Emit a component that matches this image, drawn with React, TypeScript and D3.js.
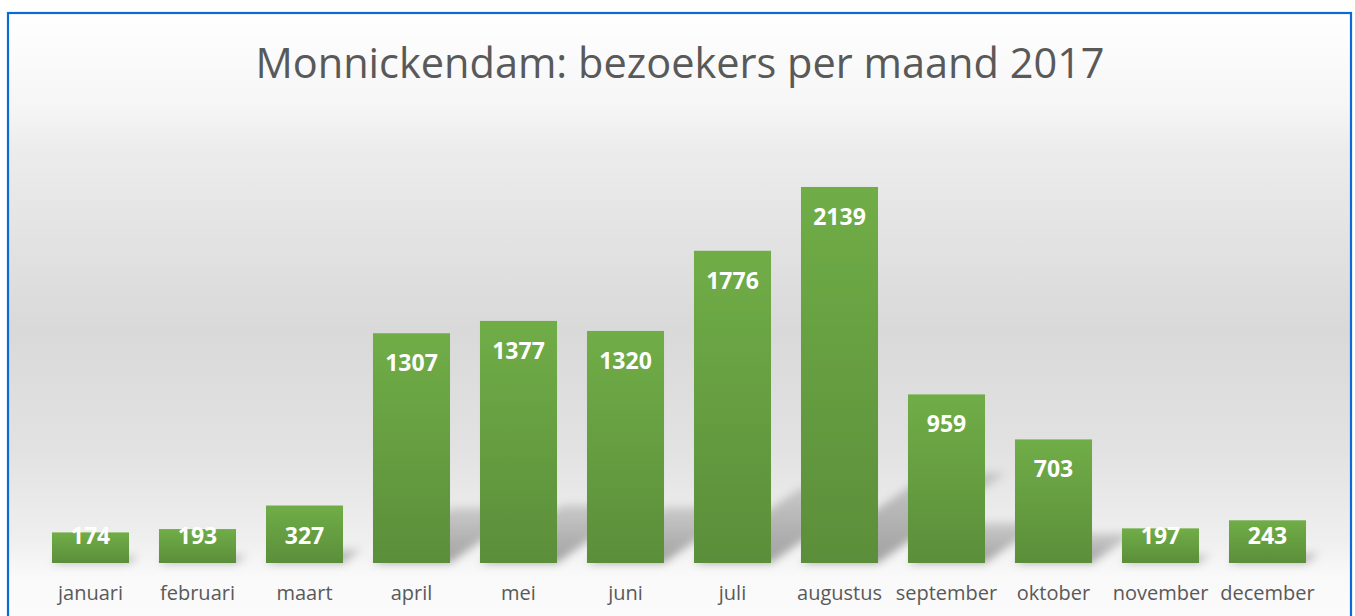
import React from "react";
import * as d3 from "d3";

const months: string[] = [
  "januari", "februari", "maart", "april", "mei", "juni",
  "juli", "augustus", "september", "oktober", "november", "december",
];
const visitors: number[] = [174, 193, 327, 1307, 1377, 1320, 1776, 2139, 959, 703, 197, 243];
const titleText = "Monnickendam: bezoekers per maand 2017";

const W = 1355;
const H = 616;
const FONT = "'Open Sans', 'Noto Sans', sans-serif";

export default function App() {
  const x = d3.scaleBand<string>().domain(months).range([37, 1321]).paddingInner(0.28).paddingOuter(0.14);
  const y = d3.scaleLinear().domain([0, 2500]).range([563, 123.5]);
  const base = y(0);

  const shadowPath = (m: string, v: number) => {
    const x0 = x(m)!;
    const x1 = x0 + x.bandwidth();
    const h = base - y(v);
    const dx = 0.34 * h;
    const dy = 0.24 * h;
    const p = d3.path();
    p.moveTo(x0, base);
    p.lineTo(x0 + dx, base - dy);
    p.lineTo(x1 + dx, base - dy);
    p.lineTo(x1, base);
    p.closePath();
    return p.toString();
  };

  return (
    <svg width={W} height={H} style={{ position: "absolute", left: 0, top: 0 }}>
      <defs>
        <linearGradient id="bg" x1="0" y1="0" x2="0" y2={H} gradientUnits="userSpaceOnUse">
          <stop offset={13 / H} stopColor="#ffffff" />
          <stop offset={105 / H} stopColor="#f6f6f6" />
          <stop offset={150 / H} stopColor="#ececec" />
          <stop offset={330 / H} stopColor="#d9d9d9" />
          <stop offset={450 / H} stopColor="#e2e2e2" />
          <stop offset={540 / H} stopColor="#efefef" />
          <stop offset={575 / H} stopColor="#f9f9f9" />
          <stop offset={1} stopColor="#fbfbfb" />
        </linearGradient>
        <linearGradient id="barGrad" x1="0" y1="0" x2="0" y2="1">
          <stop offset="0" stopColor="#70ad47" />
          <stop offset="1" stopColor="#5b8e3a" />
        </linearGradient>
        <linearGradient id="shGrad" x1="0" y1="1" x2="0" y2="0">
          <stop offset="0" stopColor="#000" stopOpacity={0.34} />
          <stop offset="1" stopColor="#000" stopOpacity={0.14} />
        </linearGradient>
        <filter id="blur" x="-20%" y="-20%" width="140%" height="140%">
          <feGaussianBlur stdDeviation="4" />
        </filter>
      </defs>
      <rect x={0} y={0} width={W} height={H} fill="#ffffff" />
      <rect x={8} y={13} width={1343} height={H} fill="url(#bg)" stroke="#0a6ad6" strokeWidth={2.2} />

      <text x={680} y={78} textAnchor="middle" fontFamily={FONT} fontSize={41.5} fill="#595959">
        {titleText}
      </text>

      <g filter="url(#blur)">
        {months.map((m, i) => (
          <path key={m} d={shadowPath(m, visitors[i])} fill="url(#shGrad)" />
        ))}
      </g>

      {months.map((m, i) => (
        <rect key={m} x={x(m)} y={y(visitors[i])} width={x.bandwidth()} height={base - y(visitors[i])} fill="url(#barGrad)" />
      ))}

      {months.map((m, i) => (
        <text
          key={m}
          x={x(m)! + x.bandwidth() / 2}
          y={Math.min(y(visitors[i]) + 38, 544)}
          textAnchor="middle"
          fontFamily={FONT}
          fontWeight={700}
          fontSize={23}
          fill="#ffffff"
        >
          {visitors[i]}
        </text>
      ))}

      {months.map((m) => (
        <text
          key={m}
          x={x(m)! + x.bandwidth() / 2}
          y={600}
          textAnchor="middle"
          fontFamily={FONT}
          fontSize={20}
          fill="#595959"
        >
          {m}
        </text>
      ))}
    </svg>
  );
}
